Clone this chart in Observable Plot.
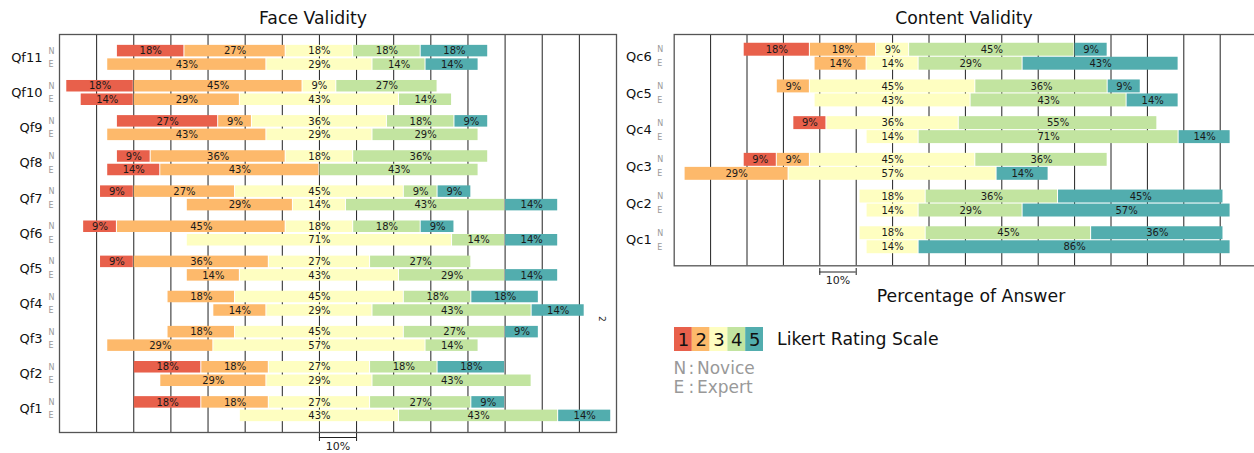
<!DOCTYPE html>
<html>
<head>
<meta charset="utf-8">
<script src="https://cdn.jsdelivr.net/npm/d3@7"></script>
<script src="https://cdn.jsdelivr.net/npm/@observablehq/plot@0.6"></script>
<style>
  body { margin: 0; background: #fff; font-family: "DejaVu Sans", sans-serif; }
  #c { position: relative; width: 1254px; height: 453px; overflow: hidden; background: #fff; }
  .abs { position: absolute; }
  .t { font-size: 17.3px; line-height: 20px; color: #111; white-space: nowrap; }
  .g { font-size: 17px; line-height: 20px; color: #999; white-space: nowrap; }
</style>
</head>
<body>
<div id="c"></div>
<script>
// ---------------- data ----------------
const likert = [1, 2, 3, 4, 5];
const likertColors = ["#e8604b", "#fdb96b", "#fefec1", "#c2e4a0", "#52adae"];

const faceQuestions = ["Qf11", "Qf10", "Qf9", "Qf8", "Qf7", "Qf6", "Qf5", "Qf4", "Qf3", "Qf2", "Qf1"];
// percentage of answers per rating 1..5, Novice (N)
const faceNovice = [
  [18.18, 27.27, 18.18, 18.18, 18.18],
  [18.18, 45.45, 9.09, 27.27, 0],
  [27.27, 9.09, 36.36, 18.18, 9.09],
  [9.09, 36.36, 18.18, 36.36, 0],
  [9.09, 27.27, 45.45, 9.09, 9.09],
  [9.09, 45.45, 18.18, 18.18, 9.09],
  [9.09, 36.36, 27.27, 27.27, 0],
  [0, 18.18, 45.45, 18.18, 18.18],
  [0, 18.18, 45.45, 27.27, 9.09],
  [18.18, 18.18, 27.27, 18.18, 18.18],
  [18.18, 18.18, 27.27, 27.27, 9.09]
];
// Expert (E)
const faceExpert = [
  [0, 42.86, 28.57, 14.29, 14.29],
  [14.29, 28.57, 42.86, 14.29, 0],
  [0, 42.86, 28.57, 28.57, 0],
  [14.29, 42.86, 0, 42.86, 0],
  [0, 28.57, 14.29, 42.86, 14.29],
  [0, 0, 71.43, 14.29, 14.29],
  [0, 14.29, 42.86, 28.57, 14.29],
  [0, 14.29, 28.57, 42.86, 14.29],
  [0, 28.57, 57.14, 14.29, 0],
  [0, 28.57, 28.57, 42.86, 0],
  [0, 0, 42.86, 42.86, 14.29]
];

const contentQuestions = ["Qc6", "Qc5", "Qc4", "Qc3", "Qc2", "Qc1"];
const contentNovice = [
  [18.18, 18.18, 9.09, 45.45, 9.09],
  [0, 9.09, 45.45, 36.36, 9.09],
  [9.09, 0, 36.36, 54.55, 0],
  [9.09, 9.09, 45.45, 36.36, 0],
  [0, 0, 18.18, 36.36, 45.45],
  [0, 0, 18.18, 45.45, 36.36]
];
const contentExpert = [
  [0, 14.29, 14.29, 28.57, 42.86],
  [0, 0, 42.86, 42.86, 14.29],
  [0, 0, 14.29, 71.43, 14.29],
  [0, 28.57, 57.14, 0, 14.29],
  [0, 0, 14.29, 28.57, 57.14],
  [0, 0, 14.29, 0, 85.71]
];

const faceDomain = [-70, 80];
const contentDomain = [-60, 100];
const faceGrid = [-60, -50, -40, -30, -20, -10, 0, 10, 20, 30, 40, 50, 60, 70];
const contentGrid = [-50, -40, -30, -20, -10, 0, 10, 20, 30, 40, 50, 60, 70, 80, 90];
const faceScaleBar = [0, 10];
const contentScaleBar = [-20, -10];
const scaleBarLabel = "10%";
const groupLabels = ["N", "E"];
const groupNames = ["Novice", "Expert"];

// ---------------- build diverging segments (neutral centred at 0) ----------------
function segments(questions, novice, expert) {
  const rows = [];
  questions.forEach((q, i) => {
    [[groupLabels[0], novice[i]], [groupLabels[1], expert[i]]].forEach(([g, vals]) => {
      let x = -(vals[0] + vals[1] + vals[2] / 2);
      vals.forEach((v, k) => {
        if (v > 0) rows.push({q, g, cat: likert[k], value: v, x1: x, x2: x + v, mid: x + v / 2, label: Math.round(v) + "%"});
        x += v;
      });
    });
  });
  return rows;
}

const color = {domain: likert, range: likertColors};
const baseStyle = {fontFamily: "DejaVu Sans", background: "transparent", overflow: "visible"};

function panel(cfg) {
  const segs = segments(cfg.questions, cfg.novice, cfg.expert);
  const N = segs.filter(d => d.g === "N"), E = segs.filter(d => d.g === "E");
  return Plot.plot({
    width: cfg.width, height: cfg.height,
    marginLeft: cfg.ml, marginRight: cfg.mr, marginTop: cfg.mt, marginBottom: cfg.mb,
    style: baseStyle,
    x: {domain: cfg.domain, axis: null},
    y: {domain: cfg.questions, axis: null, paddingInner: cfg.pi, paddingOuter: cfg.po, align: cfg.align, round: false},
    color,
    marks: [
      Plot.ruleX(cfg.grid, {stroke: "#222", strokeWidth: 1}),
      Plot.barX(N, {x1: "x1", x2: "x2", y: "q", fill: "cat", insetBottom: cfg.inset, insetLeft: 0.5, insetRight: 0.5}),
      Plot.barX(E, {x1: "x1", x2: "x2", y: "q", fill: "cat", insetTop: cfg.inset, insetLeft: 0.5, insetRight: 0.5}),
      Plot.text(N, {x: "mid", y: "q", text: "label", dy: -cfg.ldy, fontSize: 10, fill: "#1a1a1a"}),
      Plot.text(E, {x: "mid", y: "q", text: "label", dy: cfg.ldy, fontSize: 10, fill: "#1a1a1a"}),
      Plot.frame({stroke: "#555", strokeWidth: 1.3}),
      Plot.text(cfg.questions, {y: d => d, text: d => d, frameAnchor: "left", dx: cfg.qdx, textAnchor: "end", fontSize: 13, fill: "#111"}),
      Plot.text(cfg.questions, {y: d => d, text: () => groupLabels[0], frameAnchor: "left", dx: cfg.ndx, dy: -cfg.ldy, textAnchor: "start", fontSize: 8, fill: "#999"}),
      Plot.text(cfg.questions, {y: d => d, text: () => groupLabels[1], frameAnchor: "left", dx: cfg.ndx, dy: cfg.ldy, textAnchor: "start", fontSize: 8, fill: "#999"}),
      ...(cfg.extra || [])
    ]
  });
}

function scaleBar(cfg) {
  return Plot.plot({
    width: cfg.width, height: 22,
    marginLeft: cfg.ml, marginRight: cfg.mr, marginTop: cfg.mt, marginBottom: 12,
    style: baseStyle,
    x: {domain: cfg.domain, axis: null},
    y: {domain: [0, 1], axis: null},
    marks: [
      Plot.ruleX(cfg.bar, {y1: 0, y2: 1, stroke: "#222"}),
      Plot.ruleY([0.5], {x1: cfg.bar[0], x2: cfg.bar[1], stroke: "#222"}),
      Plot.text([scaleBarLabel], {x: (cfg.bar[0] + cfg.bar[1]) / 2, y: 0, dy: 5, text: d => d, fontSize: 11, fill: "#222"})
    ]
  });
}

function place(node, left, top, width) {
  const div = document.createElement("div");
  div.className = "abs";
  div.style.left = left + "px";
  div.style.top = top + "px";
  if (width) div.style.width = width + "px";
  div.appendChild(node);
  document.getElementById("c").appendChild(div);
  return div;
}
function label(text, cls, left, top, width, align) {
  const d = document.createElement("div");
  d.className = "abs " + cls;
  d.textContent = text;
  d.style.left = left + "px";
  d.style.top = top + "px";
  if (width) { d.style.width = width + "px"; d.style.textAlign = align || "center"; }
  document.getElementById("c").appendChild(d);
}

// ---------------- left panel ----------------
const face = panel({
  questions: faceQuestions, novice: faceNovice, expert: faceExpert,
  width: 620, height: 453, ml: 59, mr: 4, mt: 34, mb: 21,
  domain: faceDomain, grid: faceGrid,
  pi: 0.288, po: 0.309, align: 0.5, inset: 13.5, ldy: 6.75, qdx: -17, ndx: -11,
  extra: [Plot.text(["2"], {x: 76, y: ["Qf4"], text: d => d, dy: 15, rotate: 90, fontSize: 9, fill: "#222"})]
});
place(face, 0, 0, 620);
place(scaleBar({width: 620, ml: 59, mr: 4, mt: 2, domain: faceDomain, bar: faceScaleBar}), 0, 431, 620);

// ---------------- right panel ----------------
const content = panel({
  questions: contentQuestions, novice: contentNovice, expert: contentExpert,
  width: 640, height: 300, ml: 53.7, mr: 3.9, mt: 34, mb: 34.7,
  domain: contentDomain, grid: contentGrid,
  pi: 0.266, po: 0.284, align: 0.42, inset: 14, ldy: 7, qdx: -22.5, ndx: -17
});
place(content, 620, 0, 640);
place(scaleBar({width: 640, ml: 53.7, mr: 3.9, mt: 3, domain: contentDomain, bar: contentScaleBar}), 620, 265, 640);

// ---------------- titles ----------------
label("Face Validity", "t", 213, 8, 200);
label("Content Validity", "t", 864, 8, 200);
label("Percentage of Answer", "t", 841, 286, 260);

// ---------------- legend ----------------
const legend = Plot.plot({
  width: 89, height: 24, margin: 0,
  style: {fontFamily: "DejaVu Sans", background: "transparent", overflow: "visible"},
  x: {domain: likert, axis: null, padding: 0, round: false},
  color,
  marks: [
    Plot.cell(likert, {x: d => d, fill: d => d, inset: 0}),
    Plot.text(likert, {x: d => d, text: d => String(d), fontSize: 18, fill: "#111", frameAnchor: "middle", dy: 1})
  ]
});
place(legend, 674, 327, 89);
label("Likert Rating Scale", "t", 777, 329);
// N / E key, aligned in columns
[0, 1].forEach(i => {
  const top = 358 + i * 19;
  label(groupLabels[i], "g", 673.5, top);
  label(":", "g", 688.5, top);
  label(groupNames[i], "g", 697, top);
});
</script>
</body>
</html>
